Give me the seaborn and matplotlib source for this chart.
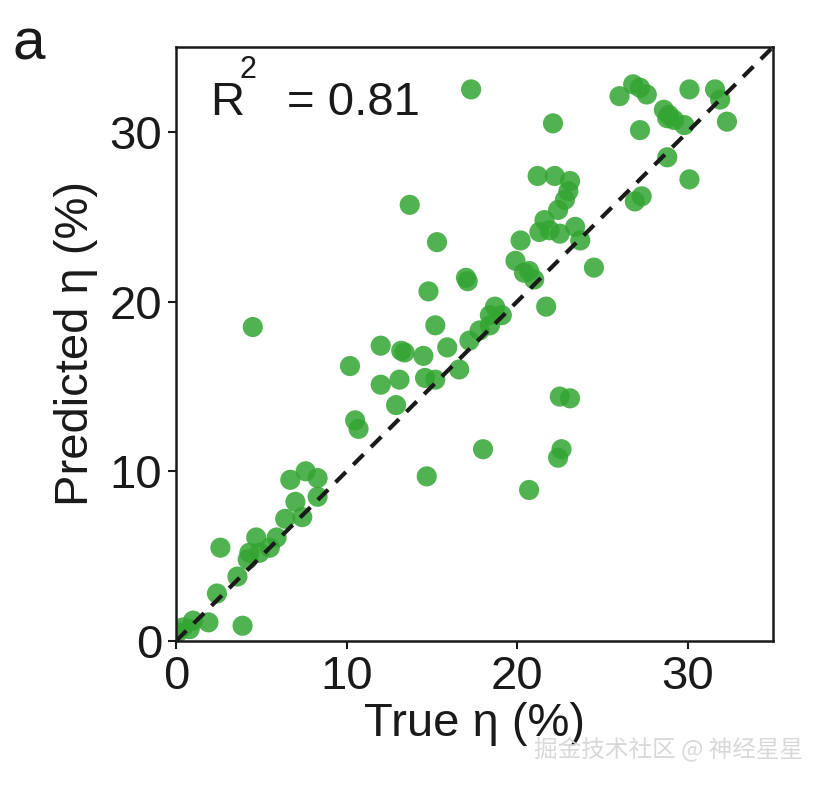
import matplotlib
matplotlib.use("Agg")
import matplotlib.pyplot as plt
import seaborn as sns
import pandas as pd

# true vs predicted efficiency (%)
true_eta = [17.3, 22.1, 26.0, 26.8, 27.2, 27.6, 30.1, 31.6, 31.9, 27.2, 28.6, 28.9, 29.2, 28.8,
            29.8, 32.3, 28.8, 30.1, 26.9, 27.3, 13.7, 21.2, 22.2, 23.1, 23.0, 22.8, 22.4, 21.6,
            21.3, 22.5, 21.9, 23.4, 23.7, 15.3, 20.2, 19.9, 20.7, 20.4, 21.0, 24.5, 17.0, 17.1,
            14.8, 21.7, 15.2, 18.7, 18.4, 19.1, 17.2, 17.8, 18.4, 15.9, 12.0, 10.2, 13.2, 13.4,
            14.5, 16.6, 12.0, 13.1, 14.6, 15.2, 12.9, 10.5, 10.7, 4.5, 18.0, 14.7, 20.7, 22.5,
            23.1, 22.6, 22.4, 7.6, 6.7, 8.3, 8.3, 7.0, 7.4, 6.4, 5.9, 4.7, 4.3, 4.2, 4.9, 2.6,
            3.6, 2.4, 3.9, 1.9, 1.0, 0.4, 0.1, 0.8, 5.5]
pred_eta = [32.5, 30.5, 32.1, 32.8, 32.6, 32.2, 32.5, 32.5, 31.9, 30.1, 31.3, 31.0, 30.7, 30.8,
            30.4, 30.6, 28.5, 27.2, 25.9, 26.2, 25.7, 27.4, 27.4, 27.1, 26.5, 26.0, 25.4, 24.8,
            24.1, 24.0, 24.2, 24.4, 23.6, 23.5, 23.6, 22.4, 21.8, 21.7, 21.3, 22.0, 21.4, 21.2,
            20.6, 19.7, 18.6, 19.7, 19.2, 19.2, 17.7, 18.3, 18.6, 17.3, 17.4, 16.2, 17.1, 17.0,
            16.8, 16.0, 15.1, 15.4, 15.5, 15.4, 13.9, 13.0, 12.5, 18.5, 11.3, 9.7, 8.9, 14.4,
            14.3, 11.3, 10.8, 10.0, 9.5, 9.6, 8.5, 8.2, 7.3, 7.2, 6.1, 6.1, 5.2, 4.8, 5.2, 5.5,
            3.8, 2.8, 0.9, 1.1, 1.2, 0.8, 0.5, 0.7, 5.5]

df = pd.DataFrame({"true": true_eta, "pred": pred_eta})

sns.set_theme(style="white")
plt.rcParams['font.family'] = ['Liberation Sans', 'Noto Sans CJK SC']
plt.rcParams['mathtext.fontset'] = 'custom'
plt.rcParams['mathtext.rm'] = 'Liberation Sans'

fig = plt.figure(figsize=(8.28, 7.96), dpi=100)
ax = fig.add_axes([0.2126, 0.1947, 0.721, 0.7463])

sns.scatterplot(data=df, x="true", y="pred", ax=ax, s=210, color="#33a532",
                alpha=0.85, edgecolor="none", zorder=2)
ax.plot([0, 35], [0, 35], ls=(0, (3.5, 2.5)), color="#1a1a1a", lw=3, zorder=3)

ax.set_xlim(0, 35)
ax.set_ylim(0, 35)
ax.set_xticks([0, 10, 20, 30])
ax.set_yticks([0, 10, 20, 30])
ax.tick_params(labelsize=34, length=6, width=1.5, direction="out", left=True, bottom=True,
               colors="#1a1a1a", pad=4)
for sp in ax.spines.values():
    sp.set_color("#1a1a1a")
    sp.set_linewidth(1.8)
ax.set_xlabel("True η (%)", fontsize=34, color="#1a1a1a", labelpad=2)
ax.set_ylabel("Predicted η (%)", fontsize=34, color="#1a1a1a", labelpad=8)

ax.text(2.0, 31.0, "R", fontsize=34, color="#1a1a1a")
ax.text(3.7, 33.2, "2", fontsize=22, color="#1a1a1a")
ax.text(6.5, 31.0, "= 0.81", fontsize=34, color="#1a1a1a")
fig.text(0.015, 0.925, "a", fontsize=42, color="#1a1a1a")
fig.text(0.97, 0.05, "掘金技术社区 @ 神经星星", fontsize=17, color="#d8d8d8", ha="right",
         family=['Noto Sans CJK SC', 'DejaVu Sans'])

fig.savefig("out.png", dpi=100)
